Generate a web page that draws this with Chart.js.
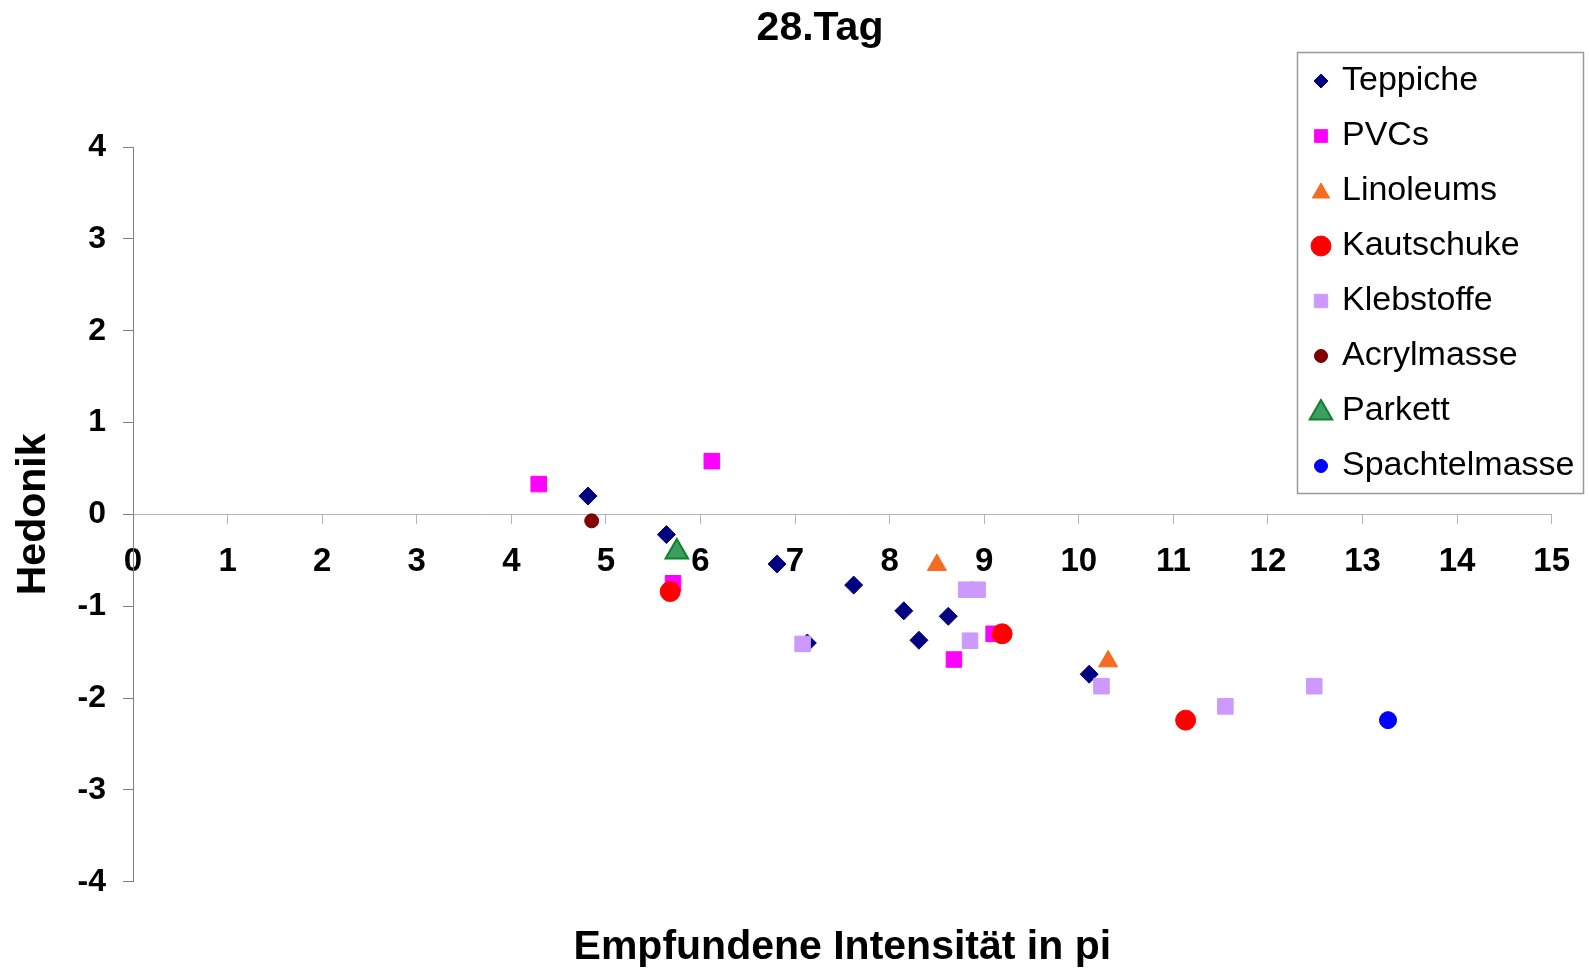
<!DOCTYPE html>
<html>
<head>
<meta charset="utf-8">
<title>28.Tag</title>
<script src="https://cdn.jsdelivr.net/npm/chart.js@4.4.1/dist/chart.umd.min.js"></script>
<style>
  html, body { margin: 0; padding: 0; background: #fff; }
  #wrap { position: relative; width: 1589px; height: 972px; }
</style>
</head>
<body>
<div id="wrap"><canvas id="hedonikChart"></canvas></div>
<script>
// Werte (x = Intensität in pi, y = Hedonik)
const seriesNames = ['Teppiche', 'PVCs', 'Linoleums', 'Kautschuke', 'Klebstoffe', 'Acrylmasse', 'Parkett', 'Spachtelmasse'];

const teppicheX = [4.81, 5.64, 6.81, 7.13, 7.62, 8.15, 8.31, 8.62, 10.11];
const teppicheY = [0.20, -0.22, -0.54, -1.40, -0.77, -1.05, -1.37, -1.11, -1.74];

const pvcX = [4.29, 6.12, 5.71, 8.68, 9.10];
const pvcY = [0.33, 0.58, -0.75, -1.58, -1.30];

const linoleumX = [8.50, 10.31];
const linoleumY = [-0.55, -1.60];

const kautschukX = [5.68, 9.19, 11.13];
const kautschukY = [-0.84, -1.30, -2.24];

const klebstoffX = [7.08, 8.81, 8.93, 8.85, 10.24, 11.55, 12.49];
const klebstoffY = [-1.41, -0.82, -0.82, -1.375, -1.87, -2.09, -1.87];

const acrylX = [4.85];
const acrylY = [-0.07];

const parkettX = [5.75];
const parkettY = [-0.41];

const spachtelX = [13.27];
const spachtelY = [-2.24];

const xTicks = [0, 15];   // min / max der Intensitätsachse
const yTicks = [-4, 4];   // min / max der Hedonikachse

const seriesX = [teppicheX, pvcX, linoleumX, kautschukX, klebstoffX, acrylX, parkettX, spachtelX];
const seriesY = [teppicheY, pvcY, linoleumY, kautschukY, klebstoffY, acrylY, parkettY, spachtelY];

// styles
const seriesStyles = [
    { color: '#000080', border: '#000080', shape: 'rectRot', radius: 9, legendRadius: 7, borderWidth: 1 },
    { color: '#FF00FF', border: '#FF00FF', shape: 'rect', radius: 11, legendRadius: 9, borderWidth: 1 },
    { color: '#F36C21', border: '#F36C21', shape: 'triangle', radius: 11, legendRadius: 10, borderWidth: 1 },
    { color: '#FF0000', border: '#FF0000', shape: 'circle', radius: 10, legendRadius: 10, borderWidth: 1 },
    { color: '#CC99FF', border: '#CC99FF', shape: 'rect', radius: 11, legendRadius: 9.5, borderWidth: 1 },
    { color: '#800000', border: '#800000', shape: 'circle', radius: 7, legendRadius: 6.5, borderWidth: 1 },
    { color: '#3D9E62', border: '#11802A', shape: 'triangle', radius: 13, legendRadius: 13, borderWidth: 2 },
    { color: '#0000FF', border: '#0000FF', shape: 'circle', radius: 8.5, legendRadius: 6.5, borderWidth: 1 }
];

const FONT = "'Liberation Sans', Arial, sans-serif";
Chart.defaults.font.family = FONT;
Chart.defaults.color = '#000';

function toPoints(xs, ys) {
    let points = [];
    for (let i = 0; i < xs.length; i++) {
        points.push({ x: xs[i], y: ys[i] });
    }
    return points;
}

let datasets = seriesNames.map((name, i) => ({
    label: name,
    data: toPoints(seriesX[i], seriesY[i]),
    xAxisID: 'x',
    yAxisID: 'y',
    pointStyle: seriesStyles[i].shape,
    pointRadius: seriesStyles[i].radius,
    pointHoverRadius: seriesStyles[i].radius,
    backgroundColor: seriesStyles[i].color,
    borderColor: seriesStyles[i].border,
    borderWidth: seriesStyles[i].borderWidth,
    legendRadius: seriesStyles[i].legendRadius,
    order: seriesNames.length - i   // später gezeichnete Reihen liegen oben (wie in Excel)
}));

// Titel und Legende (Legende liegt über der Zeichenfläche, wie im Original)
const headerAndLegend = {
    id: 'headerAndLegend',
    afterDraw(chart) {
        const ctx = chart.ctx;
        ctx.save();

        ctx.fillStyle = '#000';
        ctx.font = 'bold 41px ' + FONT;
        ctx.textAlign = 'center';
        ctx.textBaseline = 'middle';
        ctx.fillText('28.Tag', 820, 29);

        ctx.fillStyle = '#fff';
        ctx.fillRect(1297, 52, 286, 441);
        ctx.strokeStyle = '#9a9a9a';
        ctx.lineWidth = 1.5;
        ctx.strokeRect(1297.5, 52.5, 286, 441);

        ctx.font = '34px ' + FONT;
        ctx.textAlign = 'left';
        chart.data.datasets.forEach((ds, i) => {
            const y = 81 + i * 55;
            ctx.fillStyle = ds.backgroundColor;
            ctx.strokeStyle = ds.borderColor;
            ctx.lineWidth = ds.borderWidth;
            Chart.helpers.drawPoint(ctx, {
                pointStyle: ds.pointStyle,
                radius: ds.legendRadius,
                borderWidth: ds.borderWidth,
                rotation: 0
            }, 1321, y + (ds.pointStyle === 'triangle' ? 2 : 0));
            ctx.fillStyle = '#000';
            ctx.fillText(ds.label, 1342, y);
        });
        ctx.restore();
    }
};

let chart = new Chart(document.getElementById('hedonikChart'), {
    type: 'scatter',
    data: { datasets: datasets },
    options: {
        responsive: true,
        maintainAspectRatio: false,
        animation: false,
        layout: { padding: { top: 147, right: 37, left: 0, bottom: 0 } },
        plugins: {
            legend: { display: false },
            tooltip: { enabled: false },
            title: { display: false }
        },
        scales: {
            x: {
                type: 'linear',
                position: { y: 0 },
                min: xTicks[0],
                max: xTicks[1],
                ticks: {
                    stepSize: 1,
                    autoSkip: false,
                    maxRotation: 0,
                    padding: 19,
                    color: '#000',
                    font: { size: 33, weight: 'bold' }
                },
                grid: { drawOnChartArea: false, drawTicks: true, tickLength: 9, color: '#b4b4b4' },
                border: { color: '#b4b4b4', width: 1 }
            },
            xLabel: {
                type: 'linear',
                position: 'bottom',
                ticks: { display: false },
                grid: { display: false, drawTicks: false },
                border: { display: false },
                title: {
                    display: true,
                    text: 'Empfundene Intensität in pi',
                    color: '#000',
                    font: { size: 41, weight: 'bold' },
                    padding: { top: 41, bottom: 0 }
                }
            },
            y: {
                type: 'linear',
                position: 'left',
                min: yTicks[0],
                max: yTicks[1],
                ticks: {
                    stepSize: 1,
                    padding: 17,
                    color: '#000',
                    font: { size: 32, weight: 'bold' }
                },
                grid: { drawOnChartArea: false, drawTicks: true, tickLength: 10, color: '#808080' },
                border: { color: '#808080', width: 1 },
                title: {
                    display: true,
                    text: 'Hedonik',
                    color: '#000',
                    font: { size: 41, weight: 'bold' },
                    padding: { top: 9, bottom: 0 }
                },
                afterFit(scale) {
                    scale.width = 133;
                }
            }
        }
    },
    plugins: [headerAndLegend]
});
</script>
</body>
</html>
